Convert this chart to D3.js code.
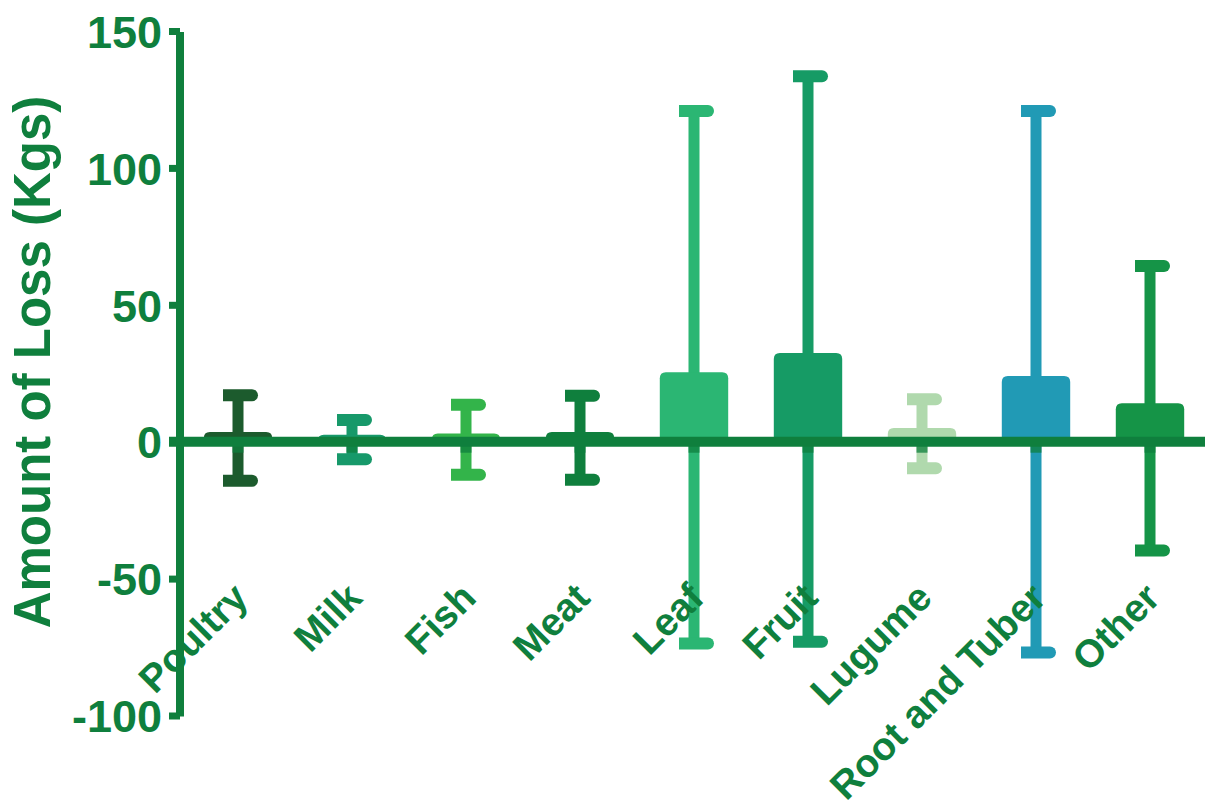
<!DOCTYPE html>
<html>
<head>
<meta charset="utf-8">
<script src="https://cdn.jsdelivr.net/npm/d3@7"></script>
<style>
  html, body { margin: 0; padding: 0; background: #ffffff; }
  svg { display: block; }
  text { font-family: "Liberation Sans", Arial, Helvetica, sans-serif; font-weight: bold; }
</style>
</head>
<body>
<svg id="chart" width="1213" height="806"></svg>
<script>
// Food loss per category: mean (bar) with lower / upper error bar ends, in kg
const categories = ["Poultry", "Milk", "Fish", "Meat", "Leaf", "Fruit", "Lugume", "Root and Tuber", "Other"];
const meanLoss   = [3.5, 2.5, 3, 3.5, 25.4, 32.4, 5, 24, 14];
const upperLoss  = [17, 7.9, 13.5, 16.8, 120.8, 133.5, 15.5, 120.8, 64.2];
const lowerLoss  = [-14.3, -6.4, -12.1, -13.9, -73.7, -73.1, -9.7, -77, -39.7];
const barColors  = ["#1c5b2d", "#17996a", "#33b44a", "#0f7f3d", "#2bb673", "#169b65", "#b0d9ad", "#219ab5", "#159447"];
const yTicks     = [-100, -50, 0, 50, 100, 150];

const axisColor = "#0f7f3d";

const rows = categories.map((c, i) => ({
  cat: c, mean: meanLoss[i], hi: upperLoss[i], lo: lowerLoss[i], color: barColors[i]
}));

const svg = d3.select("#chart");

const x = d3.scaleBand()
  .domain(categories)
  .range([181, 1207])
  .paddingInner(0.4)
  .paddingOuter(0.2);

const y = d3.scaleLinear()
  .domain([-100, 150])
  .range([715.5, 31]);

const y0 = y(0);
const whiskerW = 11;
const capH = 12;

// bar with rounded top corners
function barPath(x0, w, yTop, yBase, r) {
  const h = yBase - yTop;
  const rr = Math.max(0, Math.min(r, h, w / 2));
  const p = d3.path();
  p.moveTo(x0, yBase);
  p.lineTo(x0, yTop + rr);
  p.quadraticCurveTo(x0, yTop, x0 + rr, yTop);
  p.lineTo(x0 + w - rr, yTop);
  p.quadraticCurveTo(x0 + w, yTop, x0 + w, yTop + rr);
  p.lineTo(x0 + w, yBase);
  p.closePath();
  return p.toString();
}

// error bar cap: square left end, rounded right end
function capPath(cx, cy) {
  const left = cx - 15, right = cx + 20, r = capH / 2;
  const p = d3.path();
  p.moveTo(left, cy - r);
  p.lineTo(right - r, cy - r);
  p.arc(right - r, cy, r, -Math.PI / 2, Math.PI / 2);
  p.lineTo(left, cy + r);
  p.closePath();
  return p.toString();
}

const g = svg.append("g");

// whiskers
g.selectAll("rect.whisker")
  .data(rows)
  .join("rect")
  .attr("class", "whisker")
  .attr("x", d => x(d.cat) + x.bandwidth() / 2 - whiskerW / 2)
  .attr("width", whiskerW)
  .attr("y", d => y(d.hi))
  .attr("height", d => y(d.lo) - y(d.hi))
  .attr("fill", d => d.color);

// caps
g.selectAll("path.cap-hi")
  .data(rows)
  .join("path")
  .attr("class", "cap-hi")
  .attr("d", d => capPath(x(d.cat) + x.bandwidth() / 2, y(d.hi)))
  .attr("fill", d => d.color);

g.selectAll("path.cap-lo")
  .data(rows)
  .join("path")
  .attr("class", "cap-lo")
  .attr("d", d => capPath(x(d.cat) + x.bandwidth() / 2, y(d.lo)))
  .attr("fill", d => d.color);

// bars
g.selectAll("path.bar")
  .data(rows)
  .join("path")
  .attr("class", "bar")
  .attr("d", d => barPath(x(d.cat), x.bandwidth(), y(d.mean), y0, 6))
  .attr("fill", d => d.color);

// shading on each whisker just under the zero line
g.selectAll("rect.shade")
  .data(rows)
  .join("rect")
  .attr("class", "shade")
  .attr("x", d => x(d.cat) + x.bandwidth() / 2 - whiskerW / 2)
  .attr("width", whiskerW)
  .attr("y", y0 + 4)
  .attr("height", 7)
  .attr("fill", axisColor)
  .attr("opacity", 0.75);

// zero line
svg.append("line")
  .attr("x1", 169).attr("x2", 1205)
  .attr("y1", y0).attr("y2", y0)
  .attr("stroke", axisColor)
  .attr("stroke-width", 10);

// y axis
const yAxis = d3.axisLeft(y)
  .tickValues(yTicks)
  .tickFormat(d => String(d))
  .tickSizeInner(11)
  .tickSizeOuter(0)
  .tickPadding(7);

const ya = svg.append("g")
  .attr("transform", "translate(180,0)")
  .call(yAxis);

ya.select(".domain")
  .attr("stroke", axisColor)
  .attr("stroke-width", 8)
  .attr("d", `M0,${y(150) + 1}V${y(-100) + 1}`);
ya.selectAll(".tick line")
  .attr("stroke", axisColor)
  .attr("stroke-width", 7);
ya.selectAll(".tick text")
  .attr("fill", axisColor)
  .attr("font-size", 45)
  .attr("dy", "0.36em");

// category labels
svg.append("g")
  .selectAll("text")
  .data(categories)
  .join("text")
  .attr("transform", d => `translate(${x(d) + x.bandwidth() / 2 + 12},600) rotate(-45)`)
  .attr("text-anchor", "end")
  .attr("font-size", 39)
  .attr("fill", axisColor)
  .text(d => d);

// y axis title
svg.append("text")
  .attr("transform", "translate(50,362) rotate(-90)")
  .attr("text-anchor", "middle")
  .attr("font-size", 51)
  .attr("fill", axisColor)
  .text("Amount of Loss (Kgs)");
</script>
</body>
</html>
